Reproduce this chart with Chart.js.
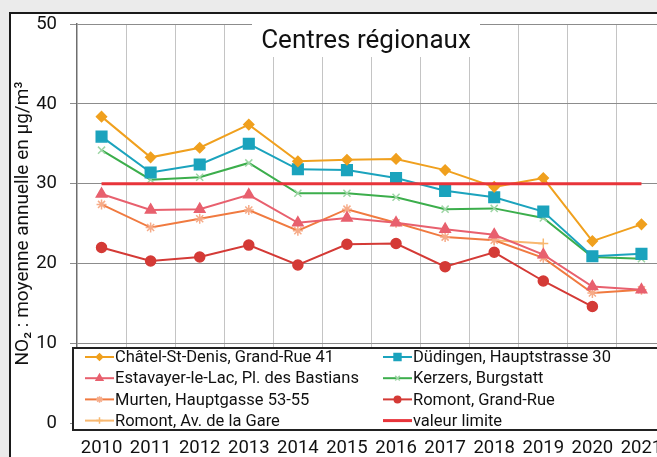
<!DOCTYPE html>
<html lang="fr">
<head>
<meta charset="utf-8">
<script src="https://cdn.jsdelivr.net/npm/chart.js@4.4.1/dist/chart.umd.min.js"></script>
<style>
html, body { margin: 0; padding: 0; background: #ebebeb; overflow: hidden; width: 657px; height: 457px; }
#cadre { position: absolute; left: 9px; top: 12px; width: 720px; height: 500px; border: 2px solid #1a1a1a; background: #fff; }
#grafico { position: absolute; left: 0; top: 0; }
</style>
</head>
<body>
<div id="cadre"></div>
<canvas id="grafico" width="700" height="470"></canvas>
<script>
// données (NO2, moyenne annuelle en µg/m3)
const annees = ['2010', '2011', '2012', '2013', '2014', '2015', '2016', '2017', '2018', '2019', '2020', '2021'];
const chatel = [38.4, 33.3, 34.5, 37.4, 32.8, 33.0, 33.1, 31.7, 29.6, 30.7, 22.8, 24.9];
const dudingen = [35.9, 31.4, 32.4, 35.0, 31.8, 31.7, 30.7, 29.1, 28.3, 26.5, 20.9, 21.2];
const estavayer = [28.7, 26.7, 26.8, 28.6, 25.1, 25.7, 25.1, 24.3, 23.6, 21.1, 17.1, 16.7];
const kerzers = [34.2, 30.5, 30.8, 32.6, 28.8, 28.8, 28.3, 26.8, 26.9, 25.7, 20.8, 20.6];
const murten = [27.4, 24.5, 25.6, 26.7, 24.1, 26.8, 25.1, 23.3, 22.9, 20.7, 16.3, 16.7];
const romontGrandRue = [22.0, 20.3, 20.8, 22.3, 19.8, 22.4, 22.5, 19.6, 21.4, 17.8, 14.6, null];
const romontGare = [null, null, null, null, null, null, null, null, 22.9, 22.5, null, null];
const valeurLimite = [30, 30, 30, 30, 30, 30, 30, 30, 30, 30, 30, 30];

const titre = 'Centres régionaux';
const titreAxeY = 'NO₂ : moyenne annuelle en µg/m³';

const serie = (label, data, couleur, style, rayon, bord) => ({
    label: label,
    data: data,
    borderColor: couleur,
    backgroundColor: couleur,
    borderWidth: 2,
    pointStyle: style,
    pointRadius: rayon,
    pointBackgroundColor: couleur,
    pointBorderColor: bord || couleur,
    pointBorderWidth: 1.5,
    spanGaps: false,
    tension: 0
});

const datasets = [
    serie('Châtel-St-Denis, Grand-Rue 41', chatel, '#f0a01e', 'rectRot', 5),
    serie('Düdingen, Hauptstrasse 30', dudingen, '#1ba3bd', 'rect', 7.5),
    serie('Estavayer-le-Lac, Pl. des Bastians', estavayer, '#e8606e', 'triangle', 6),
    serie('Kerzers, Burgstatt', kerzers, '#3cae4c', 'crossRot', 5, '#9fd6a6'),
    serie('Murten, Hauptgasse 53-55', murten, '#f07a40', 'star', 5, '#f6ab88'),
    serie('Romont, Grand-Rue', romontGrandRue, '#d43a36', 'circle', 5),
    serie('Romont, Av. de la Gare', romontGare, '#f8b870', 'cross', 5),
    Object.assign(serie('valeur limite', valeurLimite, '#e8343a', 'line', 0), { borderWidth: 3, order: -1 })
];

// cadre blanc du titre
const pluginTitre = {
    id: 'pluginTitre',
    afterDatasetsDraw(chart) {
        const ctx = chart.ctx;
        ctx.save();
        ctx.fillStyle = '#fff';
        ctx.fillRect(252, 16, 228, 41);
        ctx.fillStyle = '#111';
        ctx.font = '26px Roboto';
        ctx.textAlign = 'center';
        ctx.textBaseline = 'alphabetic';
        ctx.fillText(titre, 366, 48);
        ctx.restore();
    }
};

// légende en deux colonnes dans la zone du graphique
const pluginLegende = {
    id: 'pluginLegende',
    afterDraw(chart) {
        const ctx = chart.ctx;
        ctx.save();
        ctx.fillStyle = '#fff';
        ctx.fillRect(73, 348, 700, 82);
        ctx.strokeStyle = '#222';
        ctx.lineWidth = 2;
        ctx.beginPath();
        ctx.moveTo(800, 348); ctx.lineTo(73, 348); ctx.lineTo(73, 430); ctx.lineTo(800, 430);
        ctx.stroke();
        chart.data.datasets.forEach((ds, i) => {
            const x0 = i % 2 === 0 ? 85 : 383;
            const y = 357 + Math.floor(i / 2) * 21.2;
            ctx.strokeStyle = ds.borderColor;
            ctx.lineWidth = ds.borderWidth;
            ctx.beginPath();
            ctx.moveTo(x0, y);
            ctx.lineTo(x0 + 29, y);
            ctx.stroke();
            if (ds.pointRadius > 0) {
                ctx.fillStyle = ds.pointBackgroundColor;
                ctx.strokeStyle = ds.pointBorderColor;
                ctx.lineWidth = 1.5;
                Chart.helpers.drawPoint(ctx, { pointStyle: ds.pointStyle, radius: ds.pointRadius * 0.65, rotation: 0, borderWidth: 1.5 }, x0 + 14.5, y);
            }
            ctx.fillStyle = '#111';
            ctx.font = '16.5px Roboto';
            ctx.textAlign = 'left';
            ctx.textBaseline = 'middle';
            ctx.fillText(ds.label, x0 + 30, y + 1);
        });
        ctx.restore();
    }
};

const grafico = document.getElementById('grafico').getContext('2d');

window.graficaNO2 = new Chart(grafico, {
    type: 'line',
    data: { labels: annees, datasets: datasets },
    options: {
        responsive: false,
        animation: false,
        layout: { padding: { left: 0, top: 24, right: 34, bottom: 0 } },
        plugins: { legend: { display: false }, tooltip: { enabled: false } },
        scales: {
            x: {
                offset: true,
                grid: { offset: true, color: '#c4c4c4', lineWidth: 1, drawTicks: false },
                border: { display: false },
                ticks: { padding: 14, maxRotation: 0, autoSkip: false, color: '#111', font: { family: 'Roboto', size: 18.5 } },
                afterFit: s => { s.height = 47; }
            },
            y: {
                min: 0,
                max: 50,
                ticks: { stepSize: 10, padding: 13, color: '#111', font: { family: 'Roboto', size: 18.5 } },
                grid: { color: '#8c8c8c', lineWidth: 1, tickLength: 7, tickColor: '#8c8c8c' },
                border: { color: '#6e6e6e', width: 1.5 },
                title: { display: true, text: titreAxeY, color: '#111', font: { family: 'Roboto', size: 19 }, padding: { top: 12, bottom: 0 } },
                afterFit: s => { s.width = 77; }
            }
        }
    },
    plugins: [pluginTitre, pluginLegende]
});
</script>
</body>
</html>
